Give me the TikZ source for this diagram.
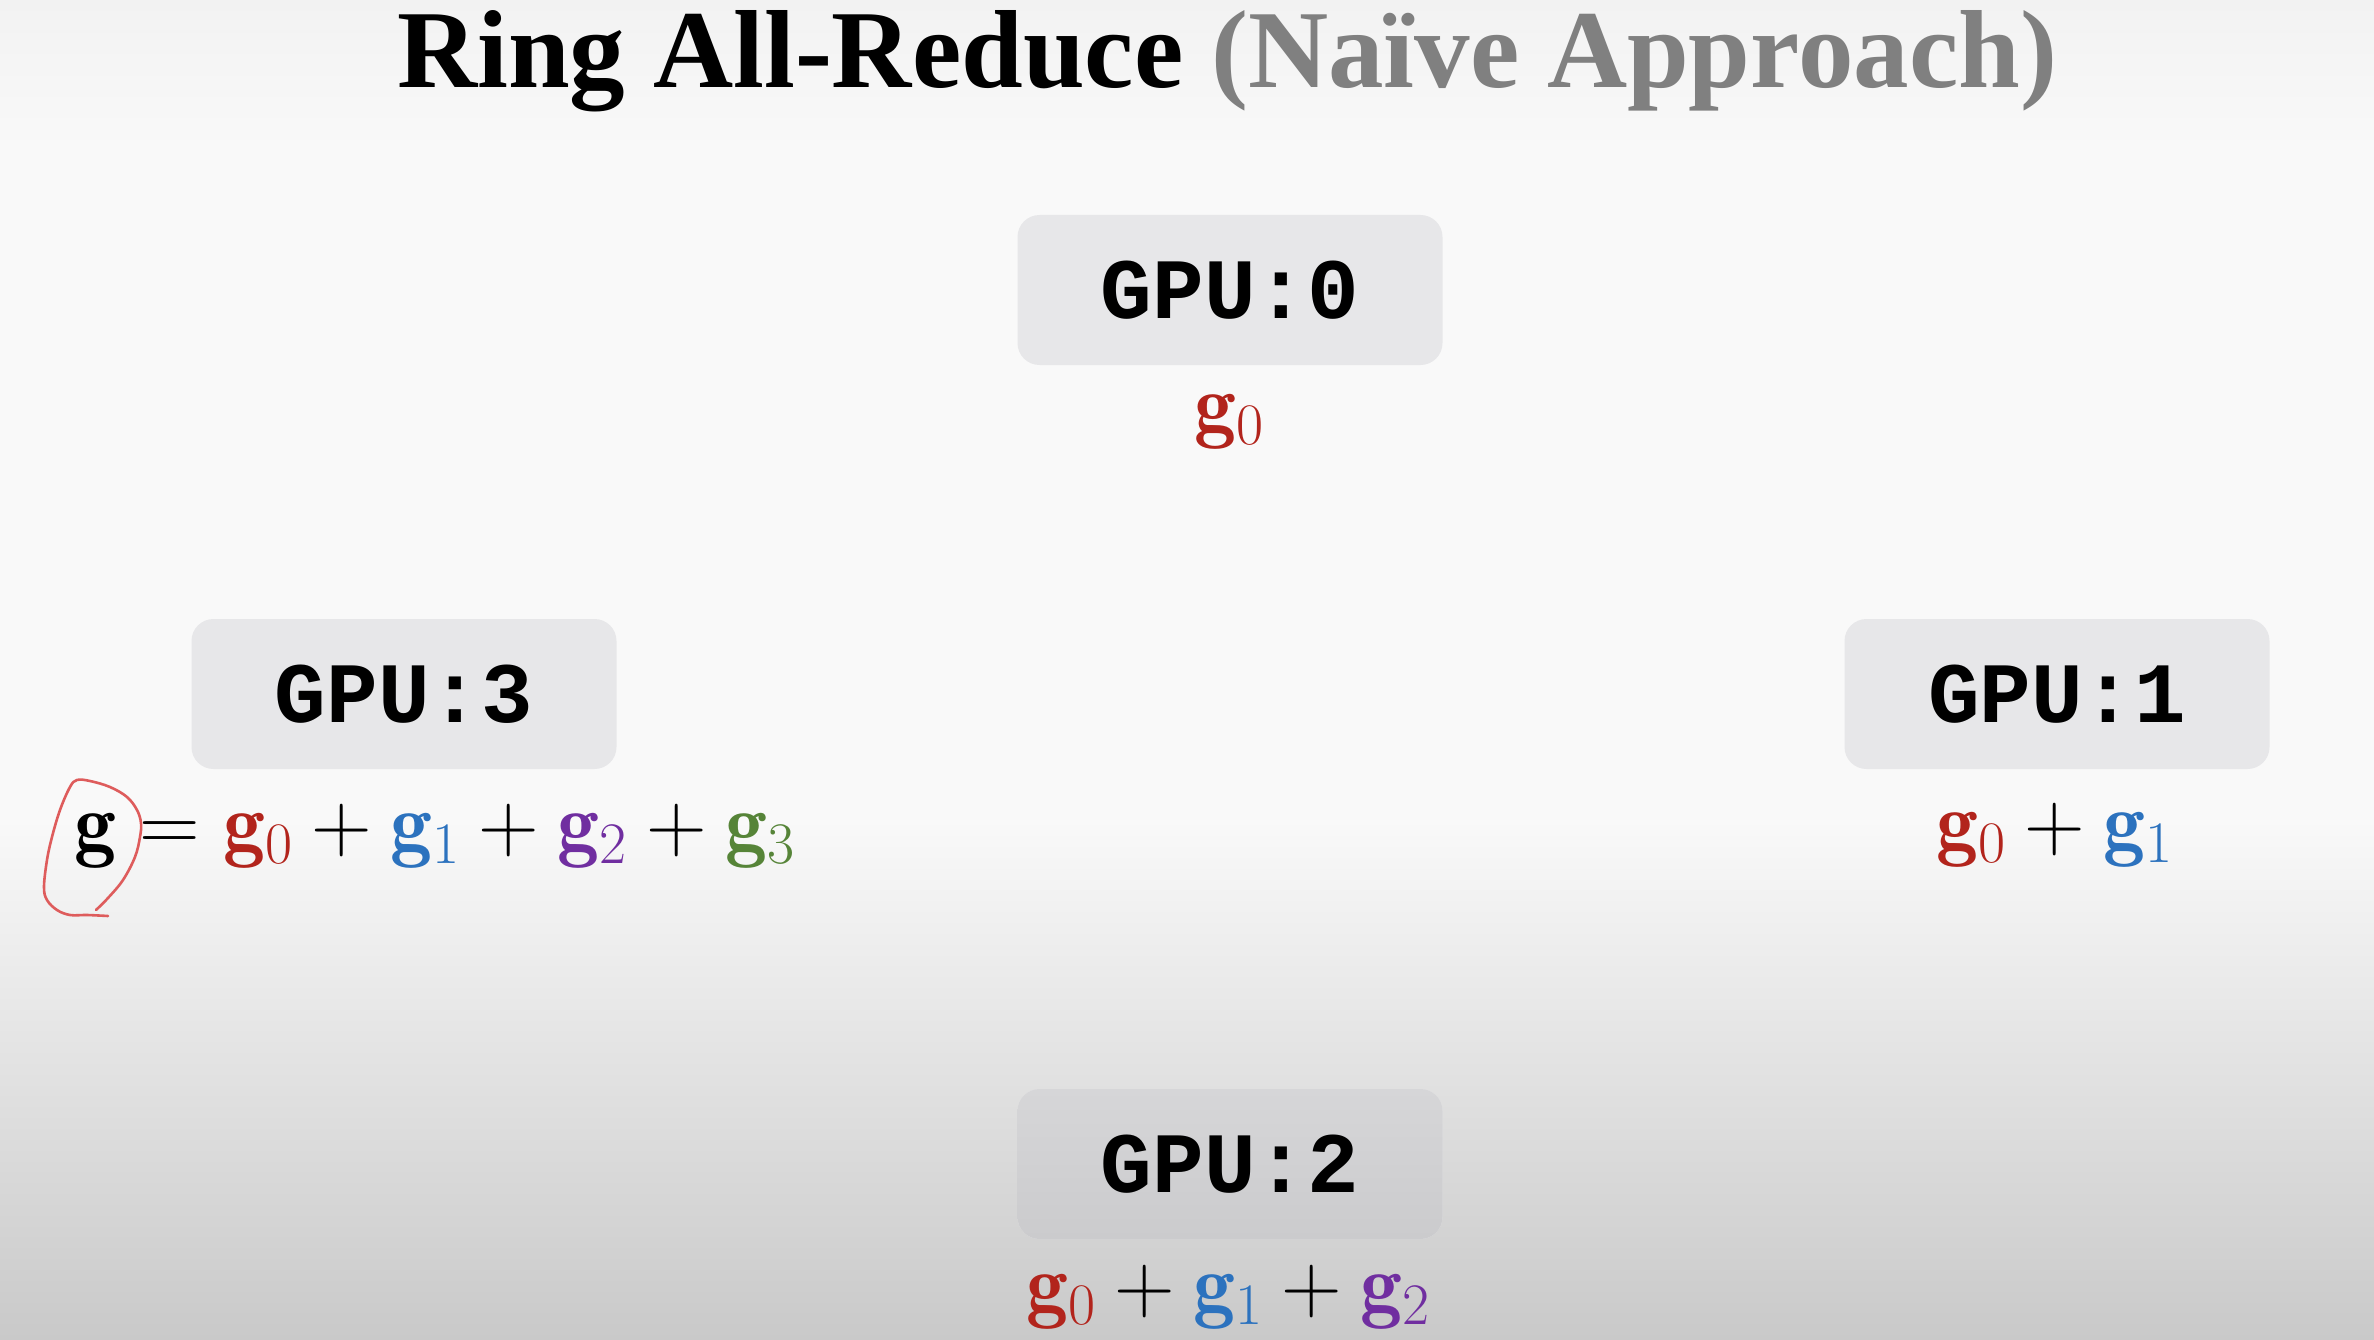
\RequirePackage{fix-cm}
\documentclass[tikz,border=0pt]{standalone}
\usepackage{fontspec}
\setmonofont{Liberation Mono}
\newfontfamily\titlefont{Liberation Serif}

\definecolor{pagetop}{RGB}{249,249,249}
\definecolor{pageedge}{RGB}{242,242,242}
\definecolor{pagebot}{RGB}{201,201,201}
\definecolor{boxfill}{RGB}{231,231,233}
\definecolor{boxfilltop}{RGB}{214,214,216}
\definecolor{boxfillbot}{RGB}{203,203,205}
\definecolor{titlegray}{RGB}{128,128,128}
\definecolor{gred}{RGB}{178,36,28}
\definecolor{gblue}{RGB}{44,114,190}
\definecolor{gpurple}{RGB}{112,46,160}
\definecolor{ggreen}{RGB}{86,132,56}
\definecolor{inkred}{RGB}{222,92,92}

\newcommand{\gv}[2]{{\color{#1}\mathbf{g}_{#2}}}

\tikzset{
  gpubox/.style={rounded corners=22pt, minimum width=425pt, minimum height=150pt,
    inner sep=0pt, fill=boxfill,
    font=\ttfamily\bfseries\fontsize{86}{96}\selectfont},
  sumtext/.style={inner sep=0pt, anchor=base,
    font=\fontsize{84}{96}\selectfont},
  titletext/.style={inner sep=0pt, anchor=base west,
    font=\titlefont\bfseries\fontsize{111}{120}\selectfont},
  markstroke/.style={draw=inkred, line width=2.6pt, line cap=round, line join=round}
}

\begin{document}
\begin{tikzpicture}[x=1pt, y=-1pt]
  % page and its lower grey shading
  \useasboundingbox (0,0) rectangle (2374,1340);
  \fill[pagetop] (0,0) rectangle (2374,820);
  \shade[top color=pageedge, bottom color=pagetop] (0,0) rectangle (2374,150);
  \shade[top color=pagetop, bottom color=pagebot] (0,819.5) rectangle (2374,1340);

  % heading
  \node[titletext] (title) at (397,88)
    {Ring All-Reduce {\color{titlegray}(Naïve Approach)}};

  % the four GPUs of the ring
  \node[gpubox] (gpu0) at (1230,290) {GPU:0};
  \node[gpubox] (gpu1) at (2057,694) {GPU:1};
  \node[gpubox, top color=boxfilltop, bottom color=boxfillbot] (gpu2) at (1230,1164) {GPU:2};
  \node[gpubox] (gpu3) at (404,694) {GPU:3};

  % partial sums held by each GPU
  \node[sumtext] (sum0) at (1229,432) {$\gv{gred}{0}$};
  \node[sumtext] (sum1) at (2055,850) {$\gv{gred}{0}+\gv{gblue}{1}$};
  \node[sumtext] (sum2) at (1228,1312) {$\gv{gred}{0}+\gv{gblue}{1}+\gv{gpurple}{2}$};
  \node[sumtext, anchor=base west] (sum3) at (74,851)
    {$\mathbf{g}=\gv{gred}{0}+\gv{gblue}{1}+\gv{gpurple}{2}+\gv{ggreen}{3}$};

  % hand-drawn loop around the total g
  \draw[markstroke] plot[smooth, tension=0.6] coordinates {
    (96,910) (108,898) (123,880) (135,857) (140,837) (141,823) (137,810)
    (127,797) (110,787) (90,781) (77,780) (70,787) (60,810) (52,837)
    (47,860) (44,887) (47,900) (57,910) (70,915) (87,915) (108,916)};
\end{tikzpicture}
\end{document}
